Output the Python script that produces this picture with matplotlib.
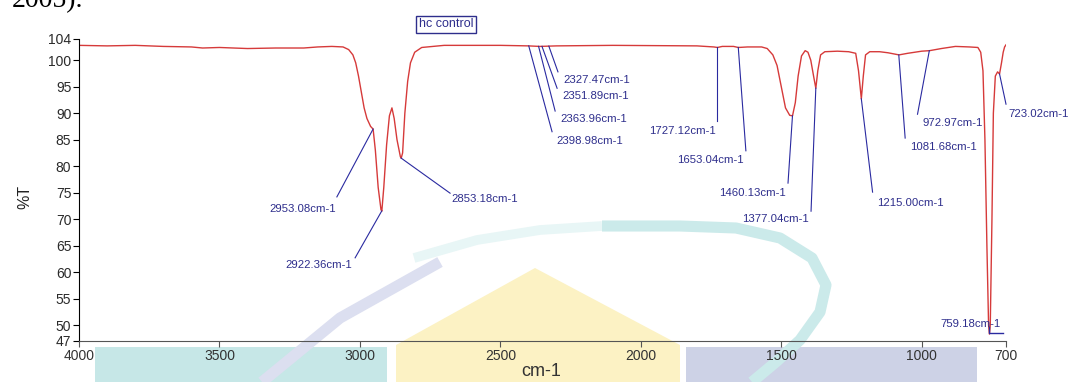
import numpy as np
import matplotlib.pyplot as plt
from matplotlib.lines import Line2D
from matplotlib.patches import Rectangle, Polygon

plt.rcParams['font.family'] = ['Liberation Sans', 'DejaVu Sans']

# spectrum (cm-1, %T)
wavenumber = [4000, 3900, 3800, 3700, 3600, 3560, 3500, 3400, 3300, 3200, 3150, 3100,
              3060, 3040, 3025, 3015, 3005, 2995, 2985, 2975, 2962, 2953, 2945, 2935,
              2925, 2922, 2915, 2905, 2895, 2886, 2878, 2868, 2856, 2853, 2848, 2840,
              2830, 2820, 2805, 2780, 2700, 2500, 2400, 2360, 2300, 2100, 1800, 1740,
              1727, 1710, 1670, 1653, 1620, 1570, 1550, 1530, 1515, 1500, 1485, 1470,
              1460, 1450, 1440, 1428, 1415, 1405, 1395, 1385, 1377, 1370, 1360, 1345,
              1300, 1260, 1235, 1225, 1215, 1208, 1200, 1185, 1150, 1120, 1081, 1050,
              1000, 972, 930, 880, 830, 800, 790, 782, 775, 768, 762, 759, 756, 750,
              745, 738, 730, 723, 716, 710, 705, 700]
transmittance = [102.8, 102.7, 102.8, 102.6, 102.5, 102.3, 102.4, 102.2, 102.3, 102.3, 102.5, 102.6,
                 102.5, 102.0, 101.0, 99.5, 97.0, 94.0, 91.0, 89.0, 87.5, 87.0, 83.0, 76.0,
                 71.8, 71.5, 76.0, 84.0, 89.5, 91.0, 89.0, 85.0, 81.8, 81.5, 82.5, 90.0,
                 96.0, 99.5, 101.5, 102.4, 102.8, 102.8, 102.7, 102.6, 102.7, 102.8, 102.7, 102.5,
                 102.4, 102.6, 102.6, 102.4, 102.5, 102.5, 102.2, 101.0, 99.0, 95.0, 91.0, 89.6,
                 89.5, 92.0, 97.0, 100.8, 101.8, 101.5, 100.0, 97.0, 94.7, 98.0, 101.0, 101.6,
                 101.7, 101.6, 101.3, 98.0, 92.7, 97.0, 101.0, 101.6, 101.6, 101.4, 101.0, 101.3,
                 101.7, 101.8, 102.2, 102.6, 102.5, 102.4, 101.5, 98.0, 85.0, 65.0, 50.0, 48.3, 50.0, 70.0,
                 90.0, 97.0, 97.8, 97.4, 99.5, 101.5, 102.5, 102.9]

peak_pos = [2953.08, 2922.36, 2853.18, 2398.98, 2363.96, 2351.89, 2327.47,
            1727.12, 1653.04, 1460.13, 1377.04, 1215.00, 1081.68, 972.97, 723.02]
peak_text = ['2953.08cm-1', '2922.36cm-1', '2853.18cm-1', '2398.98cm-1', '2363.96cm-1',
             '2351.89cm-1', '2327.47cm-1', '1727.12cm-1', '1653.04cm-1', '1460.13cm-1',
             '1377.04cm-1', '1215.00cm-1', '1081.68cm-1', '972.97cm-1', '723.02cm-1']
# where the leader ends, and where the label sits
leader_end = [(3082, 74.2), (3017, 62.7), (2679, 74.9), (2316, 86.5), (2305, 90.4),
              (2298, 94.7), (2295, 97.8), (1727.12, 88.5), (1626, 82.9), (1476, 76.8),
              (1394, 71.5), (1175, 75.1), (1059, 85.3), (1015, 89.8), (700, 91.7)]
label_at = [(3084, 71.9), (3026, 61.4), (2676, 73.8), (2302, 84.8), (2288, 88.9),
            (2281, 93.2), (2277, 96.3), (1732, 86.6), (1634, 81.2), (1482, 74.9),
            (1403, 70.0), (1160, 73.1), (1041, 83.6), (996, 88.2), (690, 89.8)]
label_ha = ['right', 'right', 'left', 'left', 'left', 'left', 'left', 'right', 'right',
            'right', 'right', 'left', 'left', 'left', 'left']

xticks = [4000, 3500, 3000, 2500, 2000, 1500, 1000, 700]
yticks = [47, 50, 55, 60, 65, 70, 75, 80, 85, 90, 95, 100, 104]

W, H = 1072, 382
fig = plt.figure(figsize=(W / 100, H / 100), dpi=100)


def px(x, y):
    return x / W, 1 - y / H


# faint watermark behind the chart
for (x0, y0, x1, y1, c) in [(95, 347, 387, 382, '#c6e7e7'), (686, 347, 977, 382, '#cdd2e6')]:
    a, b = px(x0, y1)
    fig.add_artist(Rectangle((a, b), (x1 - x0) / W, (y1 - y0) / H, transform=fig.transFigure,
                             facecolor=c, edgecolor='none', zorder=-2))
fig.add_artist(Polygon([px(535, 268), px(396, 345), px(396, 382), px(680, 382), px(680, 345)],
                       closed=True, transform=fig.transFigure, facecolor='#fcf2c4',
                       edgecolor='none', zorder=-2))
arc = [(414, 258), (477, 240), (540, 230), (602, 226), (680, 226), (736, 228), (780, 238),
       (812, 258), (826, 285), (820, 312), (800, 340), (776, 362), (752, 382)]
xs, ys = zip(*[px(*p) for p in arc])
fig.add_artist(Line2D(xs[:4], ys[:4], transform=fig.transFigure, color='#e8f6f6', lw=7,
                      solid_capstyle='butt', zorder=-1))
fig.add_artist(Line2D(xs[3:], ys[3:], transform=fig.transFigure, color='#cbeaea', lw=8,
                      solid_capstyle='butt', zorder=-1))
stroke = [(262, 382), (340, 318), (440, 262)]
xs, ys = zip(*[px(*p) for p in stroke])
fig.add_artist(Line2D(xs, ys, transform=fig.transFigure, color='#dcdff0', lw=8,
                      solid_capstyle='butt', zorder=-1))

ax = fig.add_axes([79 / W, 1 - 341 / H, (1006 - 79) / W, (341 - 39) / H])
ax.patch.set_alpha(0)

ax.plot(wavenumber, transmittance, color='#d63a3a', lw=1.0)

lab_color = '#2e2e8c'
for p, t, e, l, ha in zip(peak_pos, peak_text, leader_end, label_at, label_ha):
    yp = np.interp(p, wavenumber[::-1], transmittance[::-1])
    ax.plot([p, e[0]], [yp, e[1]], color='#2a2aa0', lw=0.8, clip_on=False)
    ax.text(l[0], l[1], t, ha=ha, va='center', fontsize=8.2, color=lab_color, clip_on=False)

# marker at the deepest peak
ax.plot([759.18, 759.18, 711], [49.7, 48.6, 48.6], color='#2a2aa0', lw=1.0, clip_on=False)
ax.text(935, 50.2, '759.18cm-1', ha='left', va='center', fontsize=8.2, color=lab_color)

ax.set_xlim(4000, 700)
ax.set_ylim(47, 104)
ax.set_xticks(xticks)
ax.set_yticks(yticks)
ax.spines['top'].set_visible(False)
ax.spines['right'].set_visible(False)
ax.spines['bottom'].set_color('#555555')
ax.tick_params(axis='both', direction='out', length=4, width=0.8, labelsize=10,
               labelcolor='#2a2a2a', pad=1.5)
ax.tick_params(axis='x', colors='#555555', labelcolor='#333333')

fig.text(*px(25, 197), '%T', rotation=90, ha='center', va='center', fontsize=11.5, color='#222222')
fig.text(*px(541, 371), 'cm-1', ha='center', va='center', fontsize=13, color='#333333')
fig.text(*px(446, 24), 'hc control', ha='center', va='center', fontsize=9, color=lab_color,
         bbox=dict(boxstyle='square,pad=0.2', facecolor='white', edgecolor=lab_color, lw=1))
fig.text(*px(12, 7), '2005).', ha='left', va='baseline', fontsize=20,
         family=['Liberation Serif', 'DejaVu Serif'], color='black')

plt.savefig('out.png', dpi=100)
